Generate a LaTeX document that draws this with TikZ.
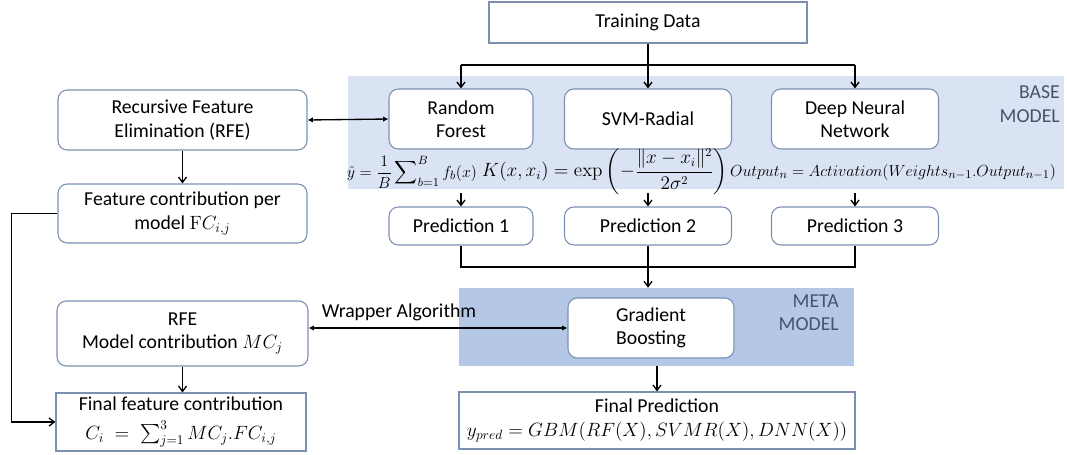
\documentclass[tikz,border=0pt]{standalone}
\usepackage{amsmath}
\usepackage[no-math]{fontspec}
\setmainfont{Carlito}
\usetikzlibrary{arrows.meta}
\definecolor{boxline}{RGB}{124,145,178}
\definecolor{baseband}{RGB}{218,227,243}
\definecolor{metaband}{RGB}{180,199,231}
\definecolor{labeltxt}{RGB}{68,84,106}
\tikzset{
  txt/.style={font=\fontsize{14.8}{17.5}\selectfont, align=center},
  rbox/.style={txt, draw=boxline, line width=0.8pt, fill=white, rounded corners=7pt, inner sep=0pt},
  sbox/.style={txt, draw=boxline, line width=0.8pt, fill=white, inner sep=0pt},
  band/.style={inner sep=0pt, draw=none},
  arr/.style={line width=1pt, -{Straight Barb[length=4pt,width=6pt]}},
  darr/.style={line width=1pt, {Latex[length=4pt,width=4pt]}-{Latex[length=4pt,width=4pt]}},
  ln/.style={line width=1pt},
  grp/.style={font=\fontsize{14.8}{17.5}\selectfont, text=labeltxt, align=right, inner sep=0pt},
  fml/.style={font=\fontsize{12.6}{15}\selectfont, inner sep=0pt}
}
\begin{document}
\begin{tikzpicture}[x=0.75pt, y=-0.75pt]
\useasboundingbox (0,0) rectangle (1067,454);
% bands
\node[band, fill=baseband, minimum width=537pt, minimum height=84.75pt] (base) at (706,132.5) {};
\node[band, fill=metaband, minimum width=296.25pt, minimum height=58.5pt] (meta) at (656.5,327) {};
\node[grp, anchor=east] (basel) at (1060,104) {BASE\\MODEL};
\node[grp, anchor=east] (metal) at (839,312.5) {META\\MODEL};
% top
\node[sbox, minimum width=238.5pt, minimum height=30.75pt] (td) at (648,22.5) {Training Data};
\node[rbox, minimum width=108pt, minimum height=45pt] (rf) at (461,119) {Random\\Forest};
\node[rbox, minimum width=125.25pt, minimum height=45pt] (svm) at (648,119) {SVM-Radial};
\node[rbox, minimum width=125.25pt, minimum height=45pt] (dnn) at (855,119) {Deep Neural\\Network};
% formulas
\node[fml] (f1) at (412,172) {$\displaystyle \hat{y} = \frac{1}{B}\sum\nolimits_{b=1}^{B} f_b(x)$};
\node[fml, font=\fontsize{13.5}{15}\selectfont] (f2) at (605,172) {$\displaystyle K(x,x_i) = \exp\left(-\frac{\lVert x-x_i\rVert^2}{2\sigma^2}\right)$};
\node[fml] (f3) at (893,172) {$Output_n = Activation(Weights_{n-1}.Output_{n-1})$};
% predictions
\node[rbox, minimum width=108pt, minimum height=28.5pt] (p1) at (461,226) {Prediction 1};
\node[rbox, minimum width=125.25pt, minimum height=28.5pt] (p2) at (648,226) {Prediction 2};
\node[rbox, minimum width=125.25pt, minimum height=28.5pt] (p3) at (855,226) {Prediction 3};
% left column
\node[rbox, minimum width=186.75pt, minimum height=45pt] (rfe) at (182.5,120) {Recursive Feature\\Elimination (RFE)};
\node[rbox, minimum width=186.75pt, minimum height=44.25pt] (fc) at (182.5,213.5) {Feature contribution per\\model $\mathrm{F}C_{i,j}$};
\node[rbox, minimum width=188.25pt, minimum height=48.75pt] (mc) at (182.5,333.5) {RFE\\Model contribution $MC_j$};
\node[sbox, minimum width=187.5pt, minimum height=43.5pt] (ff) at (181,422) {Final feature contribution\\[4pt]$C_i \;=\; \sum_{j=1}^{3} MC_j.FC_{i,j}$};
% meta
\node[rbox, minimum width=124.5pt, minimum height=45pt] (gb) at (651,328) {Gradient\\Boosting};
\node[sbox, minimum width=297pt, minimum height=42.75pt] (fp) at (657,420.5) {Final Prediction\\[1pt]$y_{pred} = GBM(RF(X),SVMR(X),DNN(X))$};
\node[txt, inner sep=0pt] (wr) at (399,312) {Wrapper Algorithm};
% connectors
\coordinate (brl) at (461,65);
\coordinate (brr) at (855,65);
\draw[arr] (td.south) -- (svm.north);
\draw[ln] (brl) -- (brr);
\draw[arr] (brl) -- (rf.north);
\draw[arr] (brr) -- (dnn.north);
\draw[arr] (p1.north |- 0,193) -- (p1.north);
\draw[arr] (p2.north |- 0,193) -- (p2.north);
\draw[arr] (p3.north |- 0,193) -- (p3.north);
\draw[ln] (p1.south) |- (p3.south |- 0,267) -- (p3.south);
\draw[arr] (p2.south) -- (p2.south |- meta.north);
\draw[arr] (fp.north |- meta.south) -- (fp.north);
\draw[darr] (rfe.east) -- (rf.west);
\draw[darr] (mc.east |- gb.west) -- (gb.west);
\draw[arr] (rfe.south) -- (fc.north);
\draw[arr] (mc.south) -- (mc.south |- ff.north);
\draw[arr] (fc.west) -- ++(-46,0) |- (ff.west);
\end{tikzpicture}
\end{document}
